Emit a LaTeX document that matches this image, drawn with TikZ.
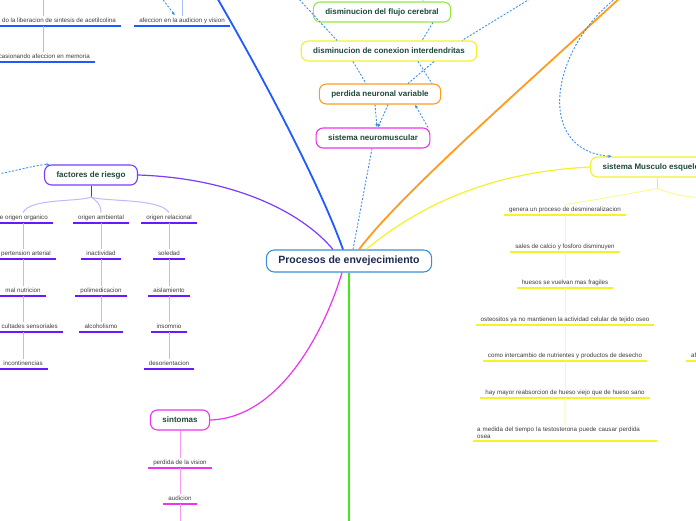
\documentclass[tikz,border=0pt]{standalone}
\usepackage{fontspec}
\setmainfont{Liberation Sans}
\usetikzlibrary{arrows.meta,calc}

\definecolor{centralline}{RGB}{58,143,214}
\definecolor{centraltext}{RGB}{28,42,82}
\definecolor{topictext}{RGB}{30,72,58}
\definecolor{leaftext}{RGB}{60,60,60}
\definecolor{relblue}{RGB}{61,143,232}
\definecolor{brblue}{RGB}{30,90,255}
\definecolor{brblueL}{RGB}{165,190,255}
\definecolor{brorange}{RGB}{255,156,30}
\definecolor{bryellow}{RGB}{245,242,40}
\definecolor{bryellowL}{RGB}{250,250,150}
\definecolor{brgreen}{RGB}{66,232,26}
\definecolor{flujogreen}{RGB}{150,232,70}
\definecolor{brpurple}{RGB}{122,60,255}
\definecolor{brpurpleD}{RGB}{105,25,255}
\definecolor{brpurpleL}{RGB}{200,180,255}
\definecolor{brmagenta}{RGB}{238,51,238}
\definecolor{brmagentaL}{RGB}{245,155,245}

\tikzset{
       topic/.style = { draw, fill=white, rounded corners=7pt, line width=1.1pt, inner xsep=12pt,
                        minimum height=20pt, text=topictext, font=\bfseries\fontsize{8}{9.6}\selectfont },
     central/.style = { topic, rounded corners=8pt, minimum height=22pt, draw=centralline,
                        text=centraltext, font=\bfseries\fontsize{10.5}{12}\selectfont },
    leafbase/.style = { font=\fontsize{6.2}{7.2}\selectfont, text=leaftext, inner xsep=5pt, inner ysep=2pt,
                        append after command={(\tikzlastnode.south west) edge[draw=#1, line width=1.3pt] (\tikzlastnode.south east)} },
        leaf/.style = { leafbase=#1, text height=4.7pt, text depth=1.4pt },
        stem/.style = { line width=1pt },
         rel/.style = { relblue, line width=0.9pt, dash pattern=on 2pt off 1.6pt },
    relarrow/.style = { rel, -{Latex[length=3.5pt,width=3pt]} }
}

\begin{document}
\begin{tikzpicture}[x=1pt, y=-1pt]
  \useasboundingbox (0,0) rectangle (696,520);

  % free ends, outside the page
  \coordinate (blueend)   at (216,-4);
  \coordinate (orangeend) at (622,-4);
  \coordinate (greenend)  at (349,524);
  \coordinate (relTL)     at (297,-3);
  \coordinate (relTR)     at (533,-3);
  \coordinate (relTop)    at (423,-8);
  \coordinate (relArc)    at (616,-2);
  \coordinate (relLeft)   at (-2,174);
  \coordinate (relAfe)    at (161,-3);
  \coordinate (cTL)       at (43,-4);
  \coordinate (cAfe)      at (182,-4);
  \coordinate (c1)        at (23,0);
  \coordinate (sintend)   at (180,524);
  \coordinate (yr)        at (705,198);

  % topics
  \node[central] (proc) at (349,261) {Procesos de envejecimiento};
  \node[topic, draw=flujogreen] (flujo) at (382,12)  {disminucion del flujo cerebral};
  \node[topic, draw=bryellow]   (conex) at (389,51)  {disminucion de conexion interdendritas};
  \node[topic, draw=brorange]   (perd)  at (380,94)  {perdida neuronal variable};
  \node[topic, draw=brmagenta]  (neuro) at (373,138) {sistema neuromuscular};
  \node[topic, draw=brpurple]   (fact)  at (91,175)  {factores de riesgo};
  \node[topic, draw=brmagenta]  (sint)  at (180,420) {sintomas};
  \node[topic, draw=bryellow, anchor=west] (musc) at (590,167) {sistema Musculo esqueletico};

  % main branches
  \draw[brblue, line width=1.8pt] ([xshift=-6pt]proc.north) .. controls (320,185) and (262,75) .. (blueend);
  \draw[brorange, line width=1.8pt] ([xshift=10pt]proc.north) .. controls (400,195) and (520,90) .. (orangeend);
  \draw[bryellow, line width=1.2pt] ([xshift=17pt]proc.north) .. controls (420,205) and (490,172) .. (musc.west);
  \draw[brpurple, line width=1.2pt] (fact.east) .. controls (230,178) and (300,210) .. ([xshift=-16pt]proc.north);
  \draw[brmagenta, line width=1.2pt] (sint.east) .. controls (280,418) and (325,330) .. ([xshift=-7pt]proc.south);
  \draw[brgreen, line width=2.2pt] (proc.south) -- (greenend);

  % relations
  \draw[rel] ([xshift=4pt]proc.north) -- ([xshift=-1pt]neuro.south);
  \draw[rel] (relTL) -- ([xshift=-52pt]conex.north);
  \draw[rel] ([xshift=-36pt]conex.south) -- ([xshift=-14pt]perd.north);
  \draw[rel] (relTR) -- ([xshift=73pt]conex.north);
  \draw[rel] ([xshift=51pt]flujo.south) -- ([xshift=33pt]conex.north);
  \draw[rel] ([xshift=45pt]conex.south) -- ([xshift=28pt]perd.north);
  \draw[rel] ([xshift=29pt]conex.south) -- ([xshift=52pt]perd.north);
  \draw[relarrow] ([xshift=-5pt]perd.south) -- ([xshift=4pt]neuro.north);
  \draw[relarrow] ([xshift=8pt]perd.south) -- ([xshift=5pt]neuro.north);
  \draw[relarrow] ([xshift=55pt]neuro.north) -- ([xshift=35pt]perd.south);
  \draw[relarrow] (relTop) -- ([xshift=41pt]flujo.north);
  \draw[relarrow] (relArc) .. controls (550,50) and (535,150) .. ([xshift=22pt]musc.north west);
  \draw[relarrow] (relLeft) .. controls (20,170) and (35,165) .. ([xshift=6pt]fact.north west);

  % top left
  \node[leaf=brblue, anchor=south east] (libe) at (121,26) {do la liberacion de sintesis de acetilcolina};
  \node[leaf=brblue, anchor=south east] (ocas) at (95,62)  {casionando afeccion en memoria};
  \node[leaf=brblue, anchor=south]      (afe)  at (182,26) {afeccion en la audicion y vision};
  \draw[stem, brblueL] (cTL) -- (cTL |- libe.north);
  \draw[stem, brblueL] (libe.south -| cTL) -- (ocas.north -| cTL);
  \draw[stem, brblueL] (cAfe) -- (afe.north);
  \draw[relarrow] (relAfe) -- ([xshift=-7pt]afe.north);

  % factores de riesgo
  \node[leaf=brpurpleD, anchor=south east] (orga) at (53,223) {e origen organico};
  \node[leaf=brpurpleD, anchor=south east] (hipe) at (56,259) {pertension arterial};
  \node[leaf=brpurpleD, anchor=south]      (nutr) at (23,296) {mal nutricion};
  \node[leaf=brpurpleD, anchor=south east] (sens) at (63,332) {cultades sensoriales};
  \node[leaf=brpurpleD, anchor=south]      (inco) at (23,369) {incontinencias};

  \node[leaf=brpurpleD, anchor=south] (ambi) at (101,223) {origen ambiental};
  \node[leaf=brpurpleD, anchor=south] (inac) at (101,259) {inactividad};
  \node[leaf=brpurpleD, anchor=south] (poli) at (101,296) {polimedicacion};
  \node[leaf=brpurpleD, anchor=south] (alco) at (101,332) {alcoholismo};

  \node[leaf=brpurpleD, anchor=south] (rela) at (169,223) {origen relacional};
  \node[leaf=brpurpleD, anchor=south] (sole) at (169,259) {soledad};
  \node[leaf=brpurpleD, anchor=south] (aisl) at (169,296) {aislamiento};
  \node[leaf=brpurpleD, anchor=south] (inso) at (169,332) {insomnio};
  \node[leaf=brpurpleD, anchor=south] (deso) at (169,369) {desorientacion};

  \coordinate (fsplit) at (91,197);
  \draw[stem, brpurpleD] (fact.south) -- (fsplit);
  \draw[stem, brpurpleL] (fsplit) .. controls (80,202) and (30,198) .. (orga.north -| c1);
  \draw[stem, brpurpleL] (fsplit) .. controls (95,200) and (101,203) .. (ambi.north);
  \draw[stem, brpurpleL] (fsplit) .. controls (105,202) and (160,198) .. (rela.north);

  \draw[stem, brpurpleL] (orga.south -| c1) -- (hipe.north -| c1);
  \draw[stem, brpurpleL] (hipe.south -| c1) -- (nutr.north);
  \draw[stem, brpurpleL] (nutr.south) -- (sens.north -| c1);
  \draw[stem, brpurpleL] (sens.south -| c1) -- (inco.north);
  \draw[stem, brpurpleL] (ambi.south) -- (inac.north);
  \draw[stem, brpurpleL] (inac.south) -- (poli.north);
  \draw[stem, brpurpleL] (poli.south) -- (alco.north);
  \draw[stem, brpurpleL] (rela.south) -- (sole.north);
  \draw[stem, brpurpleL] (sole.south) -- (aisl.north);
  \draw[stem, brpurpleL] (aisl.south) -- (inso.north);
  \draw[stem, brpurpleL] (inso.south) -- (deso.north);

  % sintomas
  \node[leaf=brmagenta, anchor=south] (vis) at (180,468) {perdida de la vision};
  \node[leaf=brmagenta, anchor=south] (aud) at (180,504) {audicion};
  \draw[stem, brmagentaL] (sint.south) -- (vis.north);
  \draw[stem, brmagentaL] (vis.south) -- (aud.north);
  \draw[stem, brmagentaL] (aud.south) -- (sintend);

  % sistema Musculo esqueletico
  \node[leaf=bryellow, anchor=south] (gene) at (565,215) {genera un proceso de desmineralizacion};
  \node[leaf=bryellow, anchor=south] (sale) at (565,252) {sales de calcio y fosforo disminuyen};
  \node[leaf=bryellow, anchor=south] (hues) at (565,288) {huesos se vuelvan mas fragiles};
  \node[leaf=bryellow, anchor=south] (oste) at (565,325) {osteositos ya no mantienen la actividad celular de tejido oseo};
  \node[leaf=bryellow, anchor=south] (inte) at (565,361) {como intercambio de nutrientes y productos de desecho};
  \node[leaf=bryellow, anchor=south] (reab) at (565,398) {hay mayor reabsorcion de hueso viejo que de hueso sano};
  \node[leafbase=bryellow, anchor=south west, text width=176pt, align=left, inner xsep=4pt] (test) at (473,441)
    {a medida del tiempo la testosterona puede causar perdida\\osea};
  \node[leaf=bryellow, anchor=south west] (afx) at (686,361) {af};

  \coordinate (msplit) at ($(musc.south)+(0,11)$);
  \draw[stem, bryellow] (musc.south) -- (msplit);
  \draw[stem, bryellowL] (msplit) .. controls +(-40,7) and +(50,-8) .. (gene.north);
  \draw[stem, bryellowL] (msplit) .. controls +(15,6) and +(-20,-1) .. (yr);
  \draw[stem, bryellowL] (gene.south) -- (sale.north);
  \draw[stem, bryellowL] (sale.south) -- (hues.north);
  \draw[stem, bryellowL] (hues.south) -- (oste.north);
  \draw[stem, bryellowL] (oste.south) -- (inte.north);
  \draw[stem, bryellowL] (inte.south) -- (reab.north);
  \draw[stem, bryellowL] (reab.south) -- (test.north);
\end{tikzpicture}
\end{document}
